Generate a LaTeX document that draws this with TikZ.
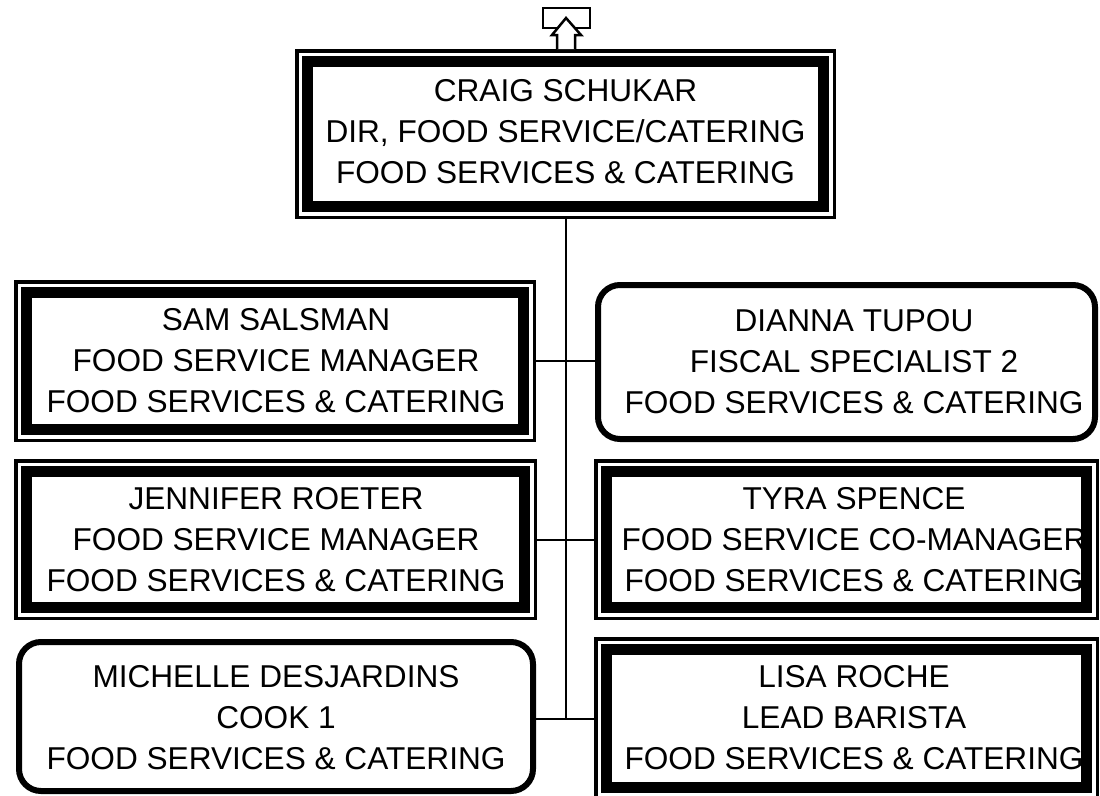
\documentclass[tikz,border=0pt]{standalone}
\usepackage{fontspec}
\setmainfont{Liberation Sans}
\tikzset{
  dframe/.style={draw, line width=3.5pt, inner sep=0pt, outer sep=0pt, fill=white},
  rframe/.style={draw, line width=6pt, rounded corners=22pt, inner sep=0pt, outer sep=0pt, fill=white},
  innerframe/.style={line width=11pt},
  conn/.style={line width=2pt},
  boxtxt/.style={align=center, inner sep=0pt, font=\fontsize{31.6pt}{41pt}\selectfont},
  mark box/.style={line width=2.5pt, line join=miter},
}
\newcommand\dblbox[5]{%
  \node[dframe, minimum width={(#4-#2-3.5)*1pt}, minimum height={(#5-#3-3.5)*1pt}] (#1) at ({(#2+#4)/2},{(#3+#5)/2}) {};
  \draw[innerframe] ([shift={(10.75pt,-10.75pt)}]#1.north west) rectangle ([shift={(-10.75pt,10.75pt)}]#1.south east);
}
\newcommand\rndbox[5]{%
  \node[rframe, minimum width={(#4-#2-6)*1pt}, minimum height={(#5-#3-6)*1pt}] (#1) at ({(#2+#4)/2},{(#3+#5)/2}) {};
}
\begin{document}
\begin{tikzpicture}[x=1pt, y=-1pt]
\useasboundingbox (0,0) rectangle (1100,795);

% boxes
\dblbox{craig}{295}{49}{836}{219}
\dblbox{sam}{14}{280}{536}{442}
\rndbox{dianna}{595}{282}{1098}{442}
\dblbox{jennifer}{14}{459}{537}{620}
\dblbox{tyra}{594}{459}{1099}{620}
\rndbox{michelle}{16}{639}{536}{794}
\dblbox{lisa}{594}{637}{1099}{800}

% connectors
\draw[conn] (craig.south) -- (craig.south |- lisa.west);
\draw[conn] (sam.east) -- (sam.east -| dianna.west);
\draw[conn] (jennifer.east) -- (jennifer.east -| tyra.west);
\draw[conn] (michelle.east |- lisa.west) -- (lisa.west);

% top marker
\draw[mark box] (543,8) rectangle (590,28);
\draw[mark box, fill=white] (557,49) -- (557,35) -- (552,35) -- (566,18) -- (581,35) -- (575,35) -- (575,49);

% texts
\node[boxtxt] (craigT) at (565.5,132) {CRAIG SCHUKAR\\DIR, FOOD SERVICE/CATERING\\FOOD SERVICES \& CATERING};
\node[boxtxt] (samT) at (276,361) {SAM SALSMAN\\FOOD SERVICE MANAGER\\FOOD SERVICES \& CATERING};
\node[boxtxt] (diannaT) at (854,361.5) {DIANNA TUPOU\\FISCAL SPECIALIST 2\\FOOD SERVICES \& CATERING};
\node[boxtxt] (jenniferT) at (276,540) {JENNIFER ROETER\\FOOD SERVICE MANAGER\\FOOD SERVICES \& CATERING};
\node[boxtxt] (tyraT) at (854,540) {TYRA SPENCE\\FOOD SERVICE CO-MANAGER\\FOOD SERVICES \& CATERING};
\node[boxtxt] (michelleT) at (276,718) {MICHELLE DESJARDINS\\COOK 1\\FOOD SERVICES \& CATERING};
\node[boxtxt] (lisaT) at (854,718) {LISA ROCHE\\LEAD BARISTA\\FOOD SERVICES \& CATERING};
\end{tikzpicture}
\end{document}
